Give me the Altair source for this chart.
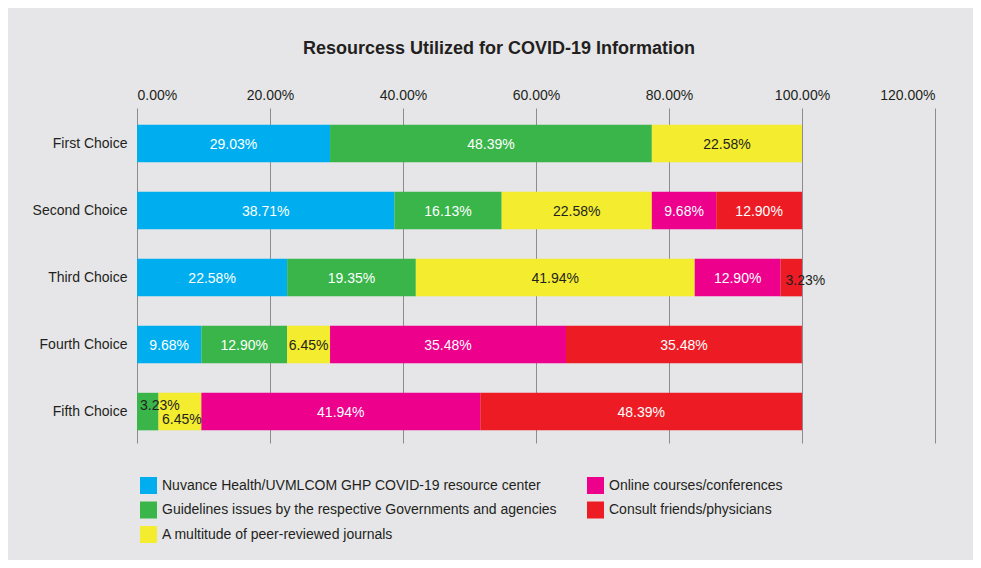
import altair as alt
import pandas as pd

FONT = "Liberation Sans"
INK = "#231f20"

choices = ["First Choice", "Second Choice", "Third Choice", "Fourth Choice", "Fifth Choice"]
sources = [
    "Nuvance Health/UVMLCOM GHP COVID-19 resource center",
    "Guidelines issues by the respective Governments and agencies",
    "A multitude of peer-reviewed journals",
    "Online courses/conferences",
    "Consult friends/physicians",
]
nuvance = [29.03, 38.71, 22.58, 9.68, 0]
guidelines = [48.39, 16.13, 19.35, 12.90, 3.23]
journals = [22.58, 22.58, 41.94, 6.45, 6.45]
online = [0, 9.68, 12.90, 35.48, 41.94]
consult = [0, 12.90, 3.23, 35.48, 48.39]
colors = ["#00aeef", "#39b54a", "#f4ec2f", "#ec008c", "#ed1c24"]
x_ticks = [0, 20, 40, 60, 80, 100, 120]

series = [nuvance, guidelines, journals, online, consult]
rows = []
for si, (src, vals) in enumerate(zip(sources, series)):
    for ch, v in zip(choices, vals):
        if v > 0:
            rows.append({"choice": ch, "source": src, "value": v, "order": si,
                         "label": f"{v:.2f}%"})
df = pd.DataFrame(rows)

base = alt.Chart(df).transform_stack(
    stack="value", groupby=["choice"], sort=[alt.SortField("order")], as_=["x0", "x1"]
).transform_calculate(mid="(datum.x0 + datum.x1) / 2")

xscale = alt.Scale(domain=[0, 120], nice=False, zero=True)
xaxis = alt.Axis(orient="top", values=x_ticks, labelExpr="format(datum.value, '.2f') + '%'",
                 title=None, domain=False, ticks=False, grid=True, gridColor="#8c8c8c",
                 gridWidth=1, labelFontSize=14, labelFont=FONT, labelPadding=6,
                 labelColor=INK)
yenc = alt.Y("choice:N", sort=choices,
             scale=alt.Scale(paddingInner=0.44, paddingOuter=0.22, align=0.57),
             axis=alt.Axis(title=None, domain=False, ticks=False, grid=False,
                           labelPadding=10, labelFontSize=14, labelFont=FONT,
                           labelColor=INK))

bars = base.mark_bar().encode(
    x=alt.X("x0:Q", scale=xscale, axis=xaxis),
    x2="x1:Q",
    y=yenc,
    color=alt.Color("source:N",
                    scale=alt.Scale(domain=sources, range=colors),
                    legend=alt.Legend(title=None, orient="none", legendX=3, legendY=369,
                                      columns=2, columnPadding=30, rowPadding=7.5,
                                      symbolType="square", symbolSize=289,
                                      symbolStrokeWidth=0, symbolOpacity=1,
                                      labelFontSize=14, labelFont=FONT, labelColor=INK,
                                      labelLimit=700, labelOffset=5, padding=0)),
)

text_color = alt.condition("datum.order == 2 || datum.value < 5",
                           alt.value(INK), alt.value("white"))

main_text = base.transform_filter(
    "datum.value >= 5 && !(datum.choice == 'Fifth Choice' && datum.value < 10)"
).mark_text(fontSize=14, font=FONT, baseline="middle", dy=1).encode(
    x=alt.X("mid:Q", scale=xscale, axis=xaxis), y=yenc, text="label:N", color=text_color)

third_small = base.transform_filter(
    "datum.choice == 'Third Choice' && datum.value < 5"
).mark_text(fontSize=14, font=FONT, baseline="middle", align="left", dx=5, dy=3, color=INK).encode(
    x=alt.X("x0:Q", scale=xscale, axis=xaxis), y=yenc, text="label:N")

fifth_green = base.transform_filter(
    "datum.choice == 'Fifth Choice' && datum.order == 1"
).mark_text(fontSize=14, font=FONT, baseline="middle", align="left", dx=3, dy=-6, color=INK).encode(
    x=alt.X("x0:Q", scale=xscale, axis=xaxis), y=yenc, text="label:N")

fifth_yellow = base.transform_filter(
    "datum.choice == 'Fifth Choice' && datum.order == 2"
).mark_text(fontSize=14, font=FONT, baseline="middle", align="left", dx=3.5, dy=8, color=INK).encode(
    x=alt.X("x0:Q", scale=xscale, axis=xaxis), y=yenc, text="label:N")

chart = alt.layer(bars, main_text, third_small, fifth_green, fifth_yellow).properties(
    width=798, height=335,
    title=alt.Title("Resourcess Utilized for COVID-19 Information", fontSize=18, font=FONT,
                    fontWeight="bold", color=INK, anchor="middle", dx=-37, offset=30),
    autosize=alt.AutoSizeParams(type="none"),
    padding={"left": 129, "top": 100, "right": 38, "bottom": 117},
    background="#e6e6e8",
).configure_view(stroke=None)

chart.save("out.html", embed_options={"renderer": "svg", "actions": False})
